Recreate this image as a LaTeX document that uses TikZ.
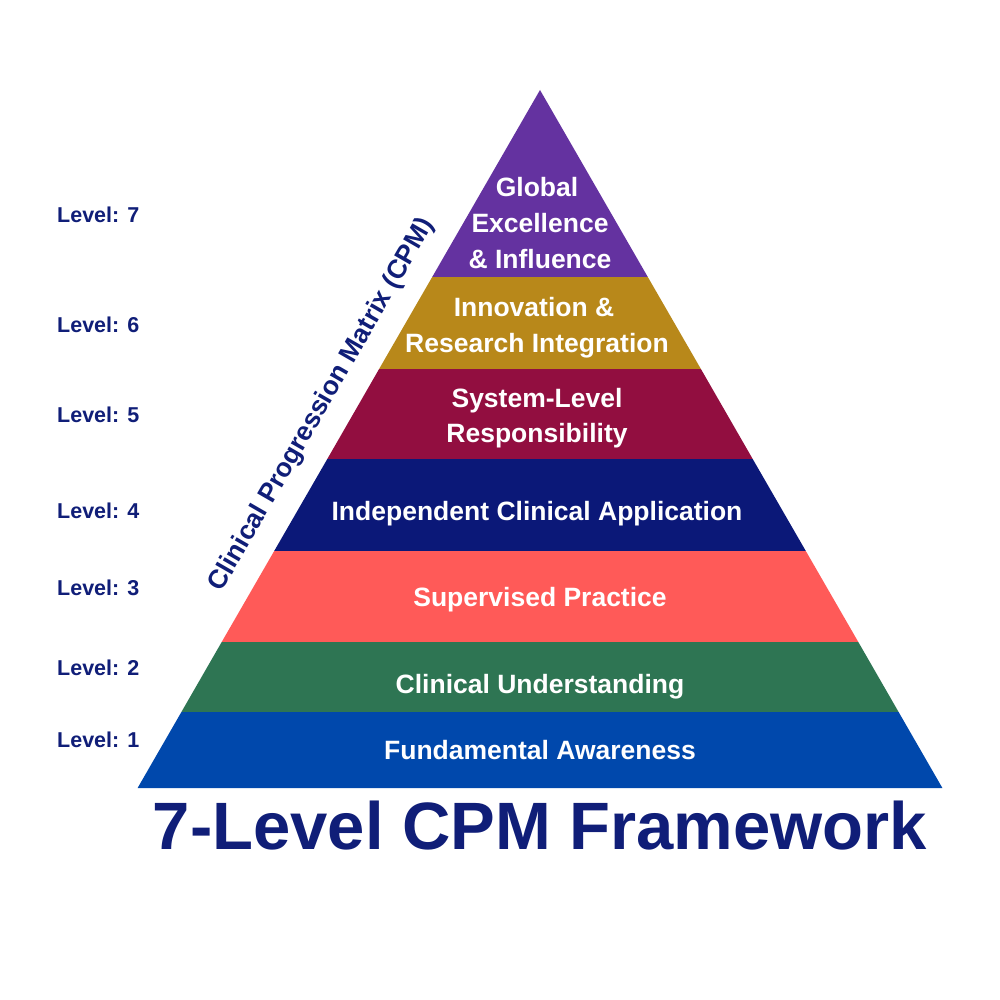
\documentclass[tikz,border=0pt]{standalone}
\usepackage{fontspec}
\setmainfont{Liberation Sans}
\definecolor{cpurple}{HTML}{6432A0}
\definecolor{cgold}{HTML}{B8881A}
\definecolor{cmaroon}{HTML}{920E40}
\definecolor{cnavy}{HTML}{0B1878}
\definecolor{ccoral}{HTML}{FF5A58}
\definecolor{cgreen}{HTML}{2E7553}
\definecolor{cblue}{HTML}{0048AC}
\definecolor{ctext}{HTML}{101E78}
\tikzset{
  layertext/.style={text=white, font=\bfseries\fontsize{26.5}{36}\selectfont, anchor=base, inner sep=0pt},
  levellabel/.style={text=ctext, font=\bfseries\fontsize{21.5}{26}\selectfont, anchor=west, inner sep=0pt},
}
\begin{document}
\begin{tikzpicture}[x=1pt,y=-1pt]
\useasboundingbox (0,0) rectangle (1000,1000);
\fill[white] (0,0) rectangle (1000,1000);
% layers
\fill[cpurple] (540,90) -- (647.8,277) -- (432.2,277) -- cycle;
\fill[cgold] (432.2,277) -- (647.8,277) -- (700.9,369) -- (379.1,369) -- cycle;
\fill[cmaroon] (379.1,369) -- (700.9,369) -- (752.7,459) -- (327.3,459) -- cycle;
\fill[cnavy] (327.3,459) -- (752.7,459) -- (805.8,551) -- (274.2,551) -- cycle;
\fill[ccoral] (274.2,551) -- (805.8,551) -- (858.3,642) -- (221.7,642) -- cycle;
\fill[cgreen] (221.7,642) -- (858.3,642) -- (898.6,712) -- (181.4,712) -- cycle;
\fill[cblue] (181.4,712) -- (898.6,712) -- (942.4,788) -- (137.6,788) -- cycle;
% layer texts
\node[layertext] (t7a) at (537,196.5) {Global};
\node[layertext] (t7b) at (540,232.5) {Excellence};
\node[layertext] (t7c) at (540,268.5) {\& Influence};
\node[layertext] (t6a) at (534,316.5) {Innovation \&};
\node[layertext] (t6b) at (537,352.5) {Research Integration};
\node[layertext] (t5a) at (537,407.5) {System-Level};
\node[layertext] (t5b) at (537,442.5) {Responsibility};
\node[layertext] (t4) at (537,520.5) {Independent Clinical Application};
\node[layertext] (t3) at (540,606.5) {Supervised Practice};
\node[layertext] (t2) at (540,693.5) {Clinical Understanding};
\node[layertext] (t1) at (540,759.5) {Fundamental Awareness};
% level labels
\node[levellabel] (l7) at (57,215) {Level: 7};
\node[levellabel] (l6) at (57,325) {Level: 6};
\node[levellabel] (l5) at (57,415) {Level: 5};
\node[levellabel] (l4) at (57,511) {Level: 4};
\node[levellabel] (l3) at (57,588) {Level: 3};
\node[levellabel] (l2) at (57,668) {Level: 2};
\node[levellabel] (l1) at (57,740) {Level: 1};
% side label
\node[text=ctext, font=\bfseries\fontsize{26.5}{30}\selectfont, rotate=60, inner sep=0pt] (side) at (322,405) {Clinical Progression Matrix (CPM)};
% title
\node[text=ctext, font=\bfseries\fontsize{67}{80}\selectfont, inner sep=0pt] (title) at (540,826) {7-Level CPM Framework};
\end{tikzpicture}
\end{document}
